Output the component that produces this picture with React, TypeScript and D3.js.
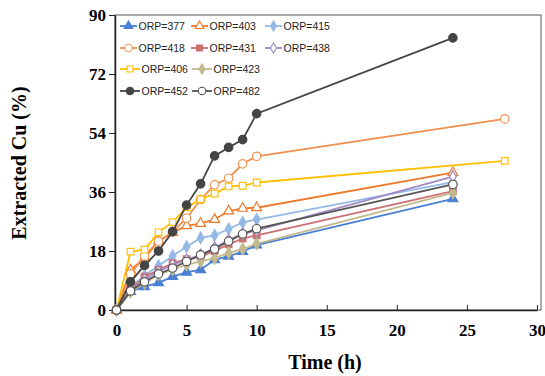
import React, { useEffect, useRef } from 'react';
import * as d3 from 'd3';

const timesShort = [0, 1, 2, 3, 4, 5, 6, 7, 8, 9, 10, 24];
const timesLong = [0, 1, 2, 3, 4, 5, 6, 7, 8, 9, 10, 27.7];

const orp377 = [0, 5.6, 7.1, 8.3, 10.2, 11.5, 12.3, 15.3, 16.4, 17.8, 19.8, 33.9];
const orp403 = [0, 12.2, 15.8, 21, 23.6, 25.7, 26.4, 27.6, 30.2, 31, 31.2, 41.9];
const orp415 = [0, 7, 10.5, 13.5, 16.5, 19.3, 22, 22.8, 24.7, 26.7, 27.6, 39];
const orp418 = [0, 11, 16.5, 21, 23.8, 28, 33.7, 38.2, 40.2, 44.6, 46.9, 58.3];
const orp431 = [0, 6.2, 10.2, 12.2, 14.3, 15.5, 16.3, 18, 20, 21.8, 22.8, 36.3];
const orp438 = [0, 6, 9.3, 11.8, 13.8, 15.3, 16.8, 19, 21.3, 23.2, 24.3, 40.7];
const orp406 = [0, 17.8, 18.4, 23.7, 26.8, 31.3, 33.8, 35.5, 37.7, 37.9, 38.9, 45.5];
const orp423 = [0, 5.5, 8.2, 10.8, 12.3, 13.8, 14.8, 15.8, 17.4, 18.6, 20.2, 35.7];
const orp452 = [0, 8.6, 13.6, 18, 23.9, 32, 38.5, 47, 49.6, 52, 59.9, 83];
const orp482 = [0, 5.8, 8.6, 11, 12.8, 14.8, 16.8, 18.6, 21, 23.2, 24.8, 38.3];

const xTicks = [0, 5, 10, 15, 20, 25, 30];
const yTicks = [0, 18, 36, 54, 72, 90];

interface Series {
  name: string;
  times: number[];
  values: number[];
  color: string;
  symbol: d3.SymbolType;
  fill: string;
}

const series: Series[] = [
  { name: 'ORP=377', times: timesShort, values: orp377, color: '#4a7fd4', symbol: d3.symbolTriangle, fill: '#4a7fd4' },
  { name: 'ORP=403', times: timesShort, values: orp403, color: '#ec7a2c', symbol: d3.symbolTriangle, fill: '#fff' },
  { name: 'ORP=415', times: timesShort, values: orp415, color: '#95b9e6', symbol: d3.symbolDiamond, fill: '#95b9e6' },
  { name: 'ORP=418', times: timesLong, values: orp418, color: '#f0904f', symbol: d3.symbolCircle, fill: '#fff' },
  { name: 'ORP=431', times: timesShort, values: orp431, color: '#cc7072', symbol: d3.symbolSquare, fill: '#cc7072' },
  { name: 'ORP=438', times: timesShort, values: orp438, color: '#a08ac6', symbol: d3.symbolDiamond, fill: '#fff' },
  { name: 'ORP=406', times: timesLong, values: orp406, color: '#ffc000', symbol: d3.symbolSquare, fill: '#fff' },
  { name: 'ORP=423', times: timesShort, values: orp423, color: '#c2b98e', symbol: d3.symbolDiamond, fill: '#c2b98e' },
  { name: 'ORP=452', times: timesShort, values: orp452, color: '#444444', symbol: d3.symbolCircle, fill: '#444444' },
  { name: 'ORP=482', times: timesShort, values: orp482, color: '#555555', symbol: d3.symbolCircle, fill: '#fff' },
];

// legend slots: [x of line start, row y]
const legendPos: Array<[number, number]> = [
  [120, 26], [191, 26], [265, 26],
  [120, 48], [191, 48], [265, 48],
  [120, 69], [192, 69],
  [120, 91], [192, 91],
];

const symbolSize = (s: d3.SymbolType) =>
  s === d3.symbolTriangle ? 42 : s === d3.symbolSquare ? 44 : s === d3.symbolDiamond ? 40 : 56;

export default function App() {
  const svgRef = useRef<SVGSVGElement>(null);
  const width = 545;
  const height = 376;

  useEffect(() => {
    if (!svgRef.current) return;
    const svg = d3.select(svgRef.current);
    svg.selectAll('*').remove();

    const margin = { top: 15, right: 4, bottom: 66, left: 115 };
    const x = d3.scaleLinear().domain([0, 30]).range([margin.left + 1.5, 537]);
    const y = d3.scaleLinear().domain([0, 90]).range([height - margin.bottom, margin.top]);

    svg.append('rect')
      .attr('width', width)
      .attr('height', height)
      .attr('fill', '#fff');

    // plot frame
    svg.append('rect')
      .attr('x', margin.left)
      .attr('y', margin.top)
      .attr('width', width - margin.right - margin.left)
      .attr('height', height - margin.bottom - margin.top)
      .attr('fill', 'none')
      .attr('stroke', '#555')
      .attr('stroke-width', 1);

    const xAxis = svg.append('g')
      .attr('transform', `translate(0,${height - margin.bottom})`)
      .call(d3.axisBottom(x).tickValues(xTicks).tickSizeInner(-5).tickSizeOuter(0).tickPadding(14));
    xAxis.select('.domain').attr('stroke', '#222').attr('stroke-width', 1.5);
    xAxis.selectAll('line').attr('stroke', '#222');

    const yAxis = svg.append('g')
      .attr('transform', `translate(${margin.left},0)`)
      .call(d3.axisLeft(y).tickValues(yTicks).tickSizeInner(6).tickSizeOuter(0).tickPadding(3));
    yAxis.select('.domain').attr('stroke', '#222').attr('stroke-width', 1.5);
    yAxis.selectAll('line').attr('stroke', '#222');

    svg.selectAll('.tick text')
      .attr('font-family', '"Liberation Serif", "Times New Roman", serif')
      .attr('font-weight', 'bold')
      .attr('font-size', 17)
      .attr('fill', '#000');

    // axis titles
    svg.append('text')
      .attr('x', 325)
      .attr('y', 369)
      .attr('text-anchor', 'middle')
      .attr('font-family', '"Liberation Serif", "Times New Roman", serif')
      .attr('font-weight', 'bold')
      .attr('font-size', 20)
      .text('Time (h)');

    svg.append('text')
      .attr('transform', 'translate(26,163) rotate(-90)')
      .attr('text-anchor', 'middle')
      .attr('font-family', '"Liberation Serif", "Times New Roman", serif')
      .attr('font-weight', 'bold')
      .attr('font-size', 20)
      .text('Extracted Cu (%)');

    const line = d3.line<[number, number]>()
      .x(d => x(d[0]))
      .y(d => y(d[1]));

    series.forEach(s => {
      const pts: Array<[number, number]> = s.times.map((t, i) => [t, s.values[i]]);
      const g = svg.append('g');
      g.append('path')
        .attr('d', line(pts))
        .attr('fill', 'none')
        .attr('stroke', s.color)
        .attr('stroke-width', 1.8);
      g.selectAll('path.mk')
        .data(pts)
        .enter()
        .append('path')
        .attr('class', 'mk')
        .attr('transform', d => `translate(${x(d[0])},${y(d[1])})`)
        .attr('d', d3.symbol().type(s.symbol).size(symbolSize(s.symbol))())
        .attr('fill', s.fill)
        .attr('stroke', s.color)
        .attr('stroke-width', 1.2);
    });

    // legend
    const legend = svg.append('g');
    series.forEach((s, i) => {
      const [lx, ly] = legendPos[i];
      const item = legend.append('g').attr('transform', `translate(${lx},${ly})`);
      const lineLen = i >= 6 ? 20 : 17;
      item.append('line')
        .attr('x1', 0)
        .attr('x2', lineLen)
        .attr('y1', 0)
        .attr('y2', 0)
        .attr('stroke', s.color)
        .attr('stroke-width', 1.8);
      item.append('path')
        .attr('transform', `translate(${lineLen / 2},0)`)
        .attr('d', d3.symbol().type(s.symbol).size(symbolSize(s.symbol) * 0.8)())
        .attr('fill', s.fill)
        .attr('stroke', s.color)
        .attr('stroke-width', 1.1);
      item.append('text')
        .attr('x', lineLen + 1.5)
        .attr('y', 4)
        .attr('font-family', '"Liberation Sans", Arial, sans-serif')
        .attr('font-size', 10.5)
        .attr('fill', '#222')
        .text(s.name);
    });
  }, []);

  return (
    <div style={{ position: 'absolute', left: 0, top: 0 }}>
      <svg ref={svgRef} width={width} height={height} style={{ display: 'block' }}></svg>
    </div>
  );
}
